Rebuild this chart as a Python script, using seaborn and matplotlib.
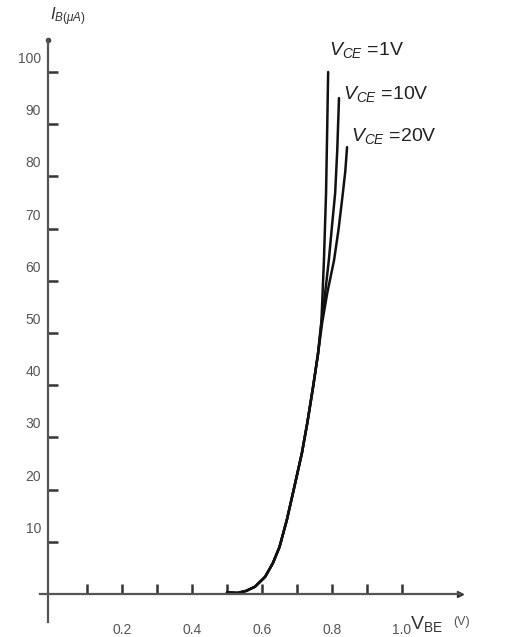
import matplotlib
matplotlib.use("Agg")
import matplotlib.pyplot as plt
import matplotlib.transforms as mtransforms
import numpy as np
import pandas as pd
import seaborn as sns

# Input characteristic of a BJT: base current vs. base-emitter voltage
series_labels = ["1V", "10V", "20V"]

# shared low-current part of the three curves
vbe_common = [0.50, 0.53, 0.555, 0.58, 0.609, 0.631, 0.65, 0.671, 0.69, 0.714, 0.73, 0.746, 0.76]
ib_common = [0.3, 0.2, 0.6, 1.4, 3.3, 5.9, 9.0, 14.2, 19.8, 27.0, 33.0, 39.7, 46.0]

vbe_1v = vbe_common + [0.770, 0.777, 0.783, 0.786, 0.789]
ib_1v = ib_common + [52.5, 64.0, 76.8, 88.0, 100.0]

vbe_10v = vbe_common + [0.771, 0.781, 0.791, 0.800, 0.809, 0.815, 0.820]
ib_10v = ib_common + [52.5, 58.0, 64.0, 70.5, 76.8, 85.0, 95.0]

vbe_20v = vbe_common + [0.772, 0.786, 0.806, 0.819, 0.831, 0.838, 0.843]
ib_20v = ib_common + [52.0, 57.5, 64.0, 70.0, 76.8, 81.0, 85.6]

x_ticks = [0.1, 0.2, 0.3, 0.4, 0.5, 0.6, 0.7, 0.8, 0.9, 1.0]
x_label_vals = [0.2, 0.4, 0.6, 0.8, 1.0]
x_tick_labels = ["0.2", "0.4", "0.6", "0.8", "1.0"]
y_ticks = [10, 20, 30, 40, 50, 60, 70, 80, 90, 100]

frames = []
for lab, xs, ys in zip(series_labels, [vbe_1v, vbe_10v, vbe_20v], [ib_1v, ib_10v, ib_20v]):
    frames.append(pd.DataFrame({"vbe": xs, "ib": ys, "vce": lab}))
df = pd.concat(frames, ignore_index=True)

sns.set_theme(style="white")
plt.rcParams["font.family"] = ["Liberation Sans", "DejaVu Sans"]
plt.rcParams["mathtext.fontset"] = "custom"
plt.rcParams["mathtext.rm"] = "Liberation Sans"
plt.rcParams["mathtext.it"] = "Liberation Sans:italic"

W, H = 508, 637
fig = plt.figure(figsize=(W / 100, H / 100), dpi=100)
# axes box in pixels: left 40, right 460, top 40, bottom 622
ax = fig.add_axes([40 / W, (H - 622) / H, 420 / W, 582 / H])

px_per_x = 350.0
px_per_y = 5.22
ax.set_xlim((40 - 52) / px_per_x, (460 - 52) / px_per_x)
ax.set_ylim(-(622 - 594) / px_per_y, (594 - 40) / px_per_y)

sns.lineplot(data=df, x="vbe", y="ib", hue="vce", units="vce", estimator=None,
             palette=["#111111"] * 3, linewidth=1.8, legend=False, ax=ax, sort=False)

for s in ["top", "right"]:
    ax.spines[s].set_visible(False)
ax.spines["left"].set_position(("data", -4 / px_per_x))
ax.spines["bottom"].set_position(("data", 0))
for s in ["left", "bottom"]:
    ax.spines[s].set_color("#555555")
    ax.spines[s].set_linewidth(1.6)

# axis end markers
ax.plot([1], [0], marker=">", color="#333333", markersize=5,
        transform=ax.get_yaxis_transform(), clip_on=False)
ax.plot([-4 / px_per_x], [1], marker="o", color="#444444", markersize=3,
        transform=ax.get_xaxis_transform(), clip_on=False)

ax.set_xticks(x_ticks)
ax.set_yticks(y_ticks)
ax.set_xticklabels([])
ax.set_yticklabels([])
ax.tick_params(axis="both", direction="in", length=7, width=1.8, color="#333333",
               bottom=True, left=True)
ax.set_xlabel("")
ax.set_ylabel("")

lbl_color = "#555555"
# y tick labels, set slightly above their ticks
off_y = mtransforms.ScaledTranslation(-7 / 100, 13 / 100, fig.dpi_scale_trans)
for v in y_ticks:
    ax.text(-4 / px_per_x, v, str(v), ha="right", va="center", fontsize=10,
            color=lbl_color, transform=ax.transData + off_y)
off_x = mtransforms.ScaledTranslation(0, -36 / 100, fig.dpi_scale_trans)
for v, t in zip(x_label_vals, x_tick_labels):
    ax.text(v, 0, t, ha="center", va="center", fontsize=10, color=lbl_color,
            transform=ax.transData + off_x)

# axis titles
fig.text(50 / W, 1 - 17 / H, r"$I_{B(\mu A)}$", fontsize=12, color="#333333",
         ha="left", va="center")
fig.text(410 / W, 1 - 624 / H, r"$\mathrm{V}_{\mathrm{BE}}$", fontsize=14,
         color="#333333", ha="left", va="center")
fig.text(453 / W, 1 - 622 / H, "(V)", fontsize=9, color="#555555",
         ha="left", va="center")

# curve labels
curve_text = [(r"$V_{CE}$ =1V", 329, 50), (r"$V_{CE}$ =10V", 343, 94), (r"$V_{CE}$ =20V", 351, 136)]
for t, xp, yp in curve_text:
    fig.text(xp / W, 1 - yp / H, t, fontsize=14, color="#222222", ha="left", va="center")

fig.savefig("out.png", dpi=100, facecolor="white")
